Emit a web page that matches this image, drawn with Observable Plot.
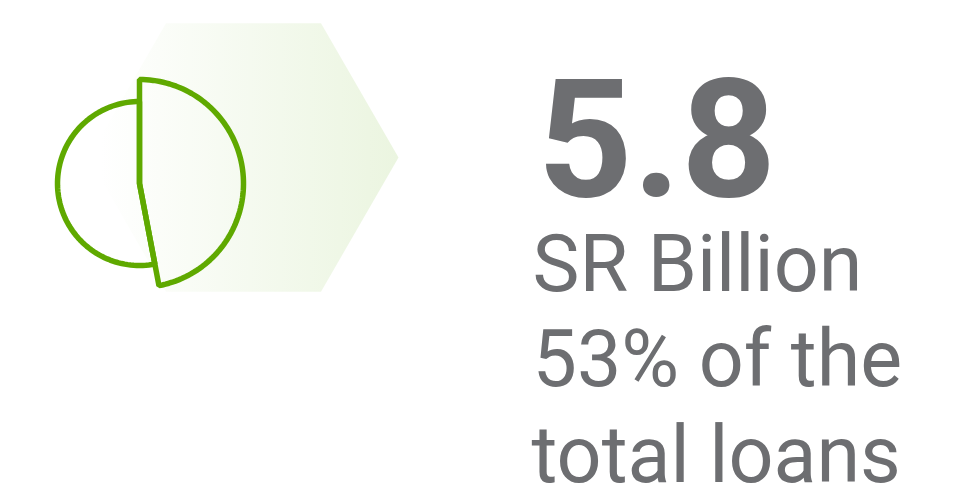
<!DOCTYPE html>
<html>
<head>
<meta charset="utf-8">
<script src="https://cdn.jsdelivr.net/npm/d3@7"></script>
<script src="https://cdn.jsdelivr.net/npm/@observablehq/plot@0.6"></script>
<style>
  html, body { margin: 0; padding: 0; background: #ffffff; }
  #chart svg { display: block; }
</style>
</head>
<body>
<div id="chart"></div>
<script>
// ---- data ----
const sliceLabels = ["Other loans", "Highlighted loans"];
const sliceShares = [47, 53];           // percent, clockwise from 12 o'clock
const sliceRadius = [104, 82];          // drawn radius of each slice (px)
const headline = "5.8";
const textLines = ["SR Billion", "53% of the", "total loans"];

// ---- layout constants ----
const W = 963, H = 499;
const cx = 139, cy = 183;
const green = "#5fa900";
const grey = "#6d6e71";

// pie outlines built from the shares through d3.pie
const arcs = d3.pie().sort(null).value(d => d)(sliceShares);
const pieOutline = [];
arcs.forEach((a, i) => {
  const r = sliceRadius[i];
  pieOutline.push({slice: sliceLabels[i], x: cx, y: cy});
  const n = 90;
  for (let k = 0; k <= n; k++) {
    const t = a.startAngle + (a.endAngle - a.startAngle) * k / n;
    pieOutline.push({slice: sliceLabels[i], x: cx + r * Math.sin(t), y: cy - r * Math.cos(t)});
  }
});

// hexagon backdrop (flat top)
const hx = 243, hy = 157, hs = 155;
const hexagon = d3.range(6).map(k => {
  const t = Math.PI / 3 * k;
  return {x: hx - hs * Math.cos(t), y: hy - hs * Math.sin(t)};
});

const headRows = [{t: headline, x: 537, y: 195}];
const bodyRows = [
  {t: textLines[0], x: 532, y: 290},
  {t: textLines[1], x: 532, y: 385},
  {t: textLines[2], x: 531, y: 481}
];

const defs = () => {
  const d = d3.create("svg:defs");
  const g = d.append("linearGradient").attr("id", "hexgrad")
    .attr("gradientUnits", "userSpaceOnUse")
    .attr("x1", 100).attr("x2", 398).attr("y1", 0).attr("y2", 0);
  g.append("stop").attr("offset", "0%").attr("stop-color", "#ffffff");
  g.append("stop").attr("offset", "100%").attr("stop-color", "#ebf5e0");
  return d.node();
};

const chart = Plot.plot({
  width: W, height: H,
  margin: 0,
  x: {domain: [0, W], range: [0, W], axis: null},
  y: {domain: [0, H], range: [0, H], axis: null},
  style: {background: "#ffffff"},
  marks: [
    defs,
    Plot.line(hexagon, {x: "x", y: "y", curve: "linear-closed", fill: "url(#hexgrad)", stroke: "none"}),
    Plot.line(pieOutline, {x: "x", y: "y", z: "slice", curve: "linear-closed", stroke: green, strokeWidth: 5.5, strokeLinejoin: "miter", fill: "none"}),
    Plot.text(headRows, {x: "x", y: "y", text: "t", textAnchor: "start", lineAnchor: "bottom",
      fontSize: 166, fontWeight: 700, fill: grey, fontFamily: "Roboto"}),
    Plot.text(bodyRows, {x: "x", y: "y", text: "t", textAnchor: "start", lineAnchor: "bottom",
      fontSize: 79, fontWeight: 400, fill: grey, fontFamily: "Roboto"})
  ]
});
document.getElementById("chart").appendChild(chart);
</script>
</body>
</html>
